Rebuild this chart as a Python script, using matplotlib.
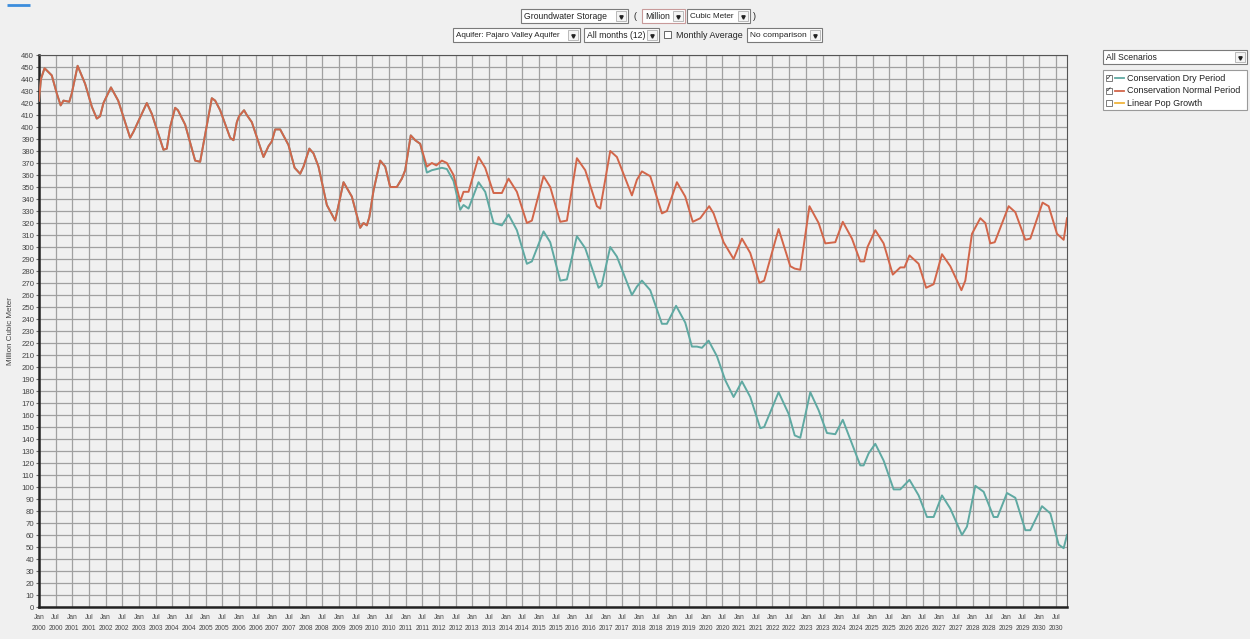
import numpy as np
import matplotlib
matplotlib.use("Agg")
import matplotlib.pyplot as plt
from matplotlib.patches import Rectangle

plt.rcParams["font.family"] = ["Liberation Sans", "DejaVu Sans"]

# --- Data (months since Jan 2000, Million Cubic Meter) ---
# both scenarios follow the same path until mid 2011
base_months = [0, 0.7, 2, 4.6, 6.4, 7.8, 8.8, 10.9, 11.8, 13.9, 16.6, 19, 20.8, 22, 23.2,
               25.9, 28.5, 32.8, 34, 38.8, 40.6, 44.8, 46, 47.2, 49, 50, 52.6, 56.2, 58,
               59.2, 62.2, 63.4, 65.2, 68.8, 70, 71.2, 72, 73.8, 74.8, 76.6, 80.8, 82.6,
               83.8, 85, 86.8, 89.8, 92, 94, 95.2, 97.3, 98.8, 100.6, 103.6, 106.6, 109.6,
               112.6, 115.6, 116.8, 118, 118.9, 120.4, 122.8, 124.6, 126.4, 128.8, 130.6,
               131.8, 133.8, 135.4, 137.2]
base_vals = [422, 440, 449, 443, 428, 418, 422, 421, 428, 451, 436, 417, 407, 409, 420,
             433, 422, 391, 396, 420, 411, 381, 382, 400, 416, 414, 402, 372, 371,
             386, 424, 422, 414, 391, 389, 404, 409, 414, 410, 404, 375, 384,
             388, 398, 398, 385, 366, 361, 367, 382, 378, 367, 335, 322, 354,
             342, 316, 320, 318, 325, 347, 372, 367, 350, 350, 357,
             364, 393, 389, 386]

normal_months = [139.6, 141.4, 143, 145, 146.8, 149.2, 151.6, 152.8, 154.6, 158.2, 160.6,
                 163.6, 166.6, 169, 172, 175.6, 177.4, 181.6, 184, 187.6, 190, 193.6,
                 196.6, 200.8, 202, 205.6, 208, 213.4, 215.2, 217, 220, 224.2, 226,
                 229.6, 232.6, 235.3, 238, 241.2, 242.8, 246.4, 250, 253, 256, 259.3,
                 261, 266.2, 270.4, 272, 274, 277.3, 280.6, 283, 286.6, 289.3, 292.6,
                 295.6, 297, 298.2, 301, 304, 307.3, 310, 311.5, 313.3, 316.6, 319.3,
                 322, 325, 328, 332, 333.4, 335.8, 338.8, 340.6, 342.4, 344, 349,
                 351.4, 355, 356.8, 361.2, 363.4, 366.4, 368.8, 370]
normal_vals = [367, 370, 368, 372, 370, 360, 338, 346, 346, 375, 366,
               345, 345, 357, 346, 320, 322, 359, 350, 321, 322, 374,
               364, 334, 332, 380, 375, 343, 356, 363, 359, 328, 330,
               354, 342, 321, 324, 334, 328, 304, 290, 307, 295, 270,
               272, 315, 284, 282, 281, 334, 320, 303, 304, 321, 307,
               288, 288, 300, 314, 303, 277, 283, 283, 293, 286, 266,
               269, 294, 284, 264, 272, 311, 324, 320, 303, 304, 334,
               329, 306, 307, 337, 334, 311, 306, 324]

dry_months = [139.6, 141.4, 145, 146.8, 149.2, 151.6, 152.8, 154.6, 158.2, 160.6, 163.6,
              166.6, 169, 172, 175.6, 177.4, 181.6, 184, 187.6, 190, 193.6, 196.6,
              201.4, 202.5, 205.6, 208, 213.4, 215.2, 217, 220, 224.2, 226, 229.3,
              232.6, 235, 236.8, 238.6, 241, 244, 247, 250, 253, 256, 259.6, 261,
              266.2, 269.8, 272, 274, 277.6, 280.6, 283.6, 286.6, 289.3, 292.6, 295.6,
              296.8, 298.6, 301, 304, 307.6, 310, 313.3, 316.6, 319.6, 322, 325, 328,
              332.2, 334, 337, 340, 343.6, 345, 348.4, 351.4, 355, 356.8, 361, 364,
              367, 368.8, 370]
dry_vals = [362, 364, 366, 365, 355, 331, 335, 332, 354, 346, 320,
            318, 327, 314, 286, 288, 313, 304, 272, 273, 309, 299,
            266, 268, 300, 292, 260, 267, 272, 264, 236, 236, 251,
            237, 217, 217, 216, 222, 209, 189, 175, 188, 175, 149, 150,
            179, 161, 143, 141, 179, 164, 145, 144, 156, 136, 118,
            118, 128, 136, 122, 98, 98, 106, 93, 75, 75, 93, 82,
            60, 67, 101, 96, 75, 75, 95, 91, 64, 64, 84, 78,
            52, 49, 60]

tick_labels = []
for yr in range(2000, 2031):
    tick_labels += [f"Jan\n{yr}", f"Jul\n{yr}"]

series_names = ["Conservation Dry Period", "Conservation Normal Period", "Linear Pop Growth"]
series_colors = ["#5fa9a2", "#d2664a", "#f0b43c"]
series_checked = [True, True, False]

W, H = 1250, 639
BG = "#f0f0f0"

fig = plt.figure(figsize=(W / 100, H / 100), dpi=100, facecolor=BG)
# plot area in pixels: left 39, right 1067, top 55, bottom 607
ax = fig.add_axes([39 / W, 1 - 607 / H, (1067 - 39) / W, (607 - 55) / H])
ax.set_facecolor(BG)

ax.plot(base_months + dry_months, base_vals + dry_vals, color=series_colors[0], lw=1.4, zorder=3)
ax.plot(base_months + normal_months, base_vals + normal_vals, color=series_colors[1], lw=1.4, zorder=4)

ax.set_xlim(0, 370)
ax.set_ylim(0, 460)
ax.set_yticks(np.arange(0, 461, 10))
ax.set_xticks(np.arange(0, 367, 6))
ax.set_xticklabels(tick_labels, fontsize=4.8, color="#444444", linespacing=1.8)
ax.tick_params(axis="y", labelsize=5.6, labelcolor="#444444", length=2, pad=1.5, color="#666666")
ax.tick_params(axis="x", length=0, pad=5)
ax.grid(True, color="#a0a0a0", lw=0.9)
ax.set_axisbelow(True)

for side in ["left", "bottom"]:
    ax.spines[side].set_linewidth(1.8)
    ax.spines[side].set_color("#222222")
for side in ["top", "right"]:
    ax.spines[side].set_linewidth(0.8)
    ax.spines[side].set_color("#555555")

ax.set_ylabel("Million Cubic Meter", fontsize=5.8, color="#444444", labelpad=5)

# --- UI widgets drawn around the chart ---
ui = fig.add_axes([0, 0, 1, 1])
ui.set_xlim(0, W)
ui.set_ylim(H, 0)
ui.axis("off")
ui.patch.set_alpha(0)


def combo(x0, y0, x1, y1, label, ec="#7a7a7a", fs=6.2):
    ui.add_patch(Rectangle((x0, y0), x1 - x0, y1 - y0, fc="white", ec=ec, lw=0.8))
    ui.text(x0 + 3, (y0 + y1) / 2 + 0.5, label, fontsize=fs, va="center", ha="left", color="#222222")
    ui.add_patch(Rectangle((x1 - 12, y0 + 2), 10, y1 - y0 - 4, fc="#f4f4f4", ec="#b0b0b0", lw=0.6))
    ui.plot([x1 - 7], [(y0 + y1) / 2 + 0.5], marker="v", ms=2.4, color="#222222")


ui.plot([7, 30], [5, 5], color="#3c8ddc", lw=2, solid_capstyle="butt")

combo(521, 9, 628, 23, "Groundwater Storage")
ui.text(633, 16.5, "(", fontsize=6.5, va="center", ha="left", color="#222222")
combo(642, 9, 685, 23, "Million", ec="#c89a9a")
combo(687, 9, 750, 23, "Cubic Meter", fs=5.9)
ui.text(753, 16.5, ")", fontsize=6.5, va="center", ha="left", color="#222222")

combo(453, 28, 580, 42, "Aquifer: Pajaro Valley Aquifer", fs=5.8)
combo(584, 28, 659, 42, "All months (12)")
ui.add_patch(Rectangle((664, 31), 7, 7, fc="white", ec="#666666", lw=0.7))
ui.text(676, 35.5, "Monthly Average", fontsize=6.4, va="center", ha="left", color="#222222")
combo(747, 28, 822, 42, "No comparison", fs=6.0)

combo(1103, 50, 1247, 64, "All Scenarios")
ui.add_patch(Rectangle((1103, 70), 144, 40, fc="white", ec="#9a9a9a", lw=0.8))
for i, (name, col, chk) in enumerate(zip(series_names, series_colors, series_checked)):
    yy = 78 + i * 12.5
    ui.add_patch(Rectangle((1106, yy - 3), 6, 6, fc="white", ec="#666666", lw=0.6))
    if chk:
        ui.text(1109, yy + 0.3, "\u2713", fontsize=5, ha="center", va="center", color="#222222")
    ui.plot([1115, 1124], [yy, yy], color=col, lw=1.3)
    ui.text(1127, yy + 0.3, name, fontsize=6.5, va="center", ha="left", color="#222222")

fig.savefig("out.png", dpi=100, facecolor=BG)
